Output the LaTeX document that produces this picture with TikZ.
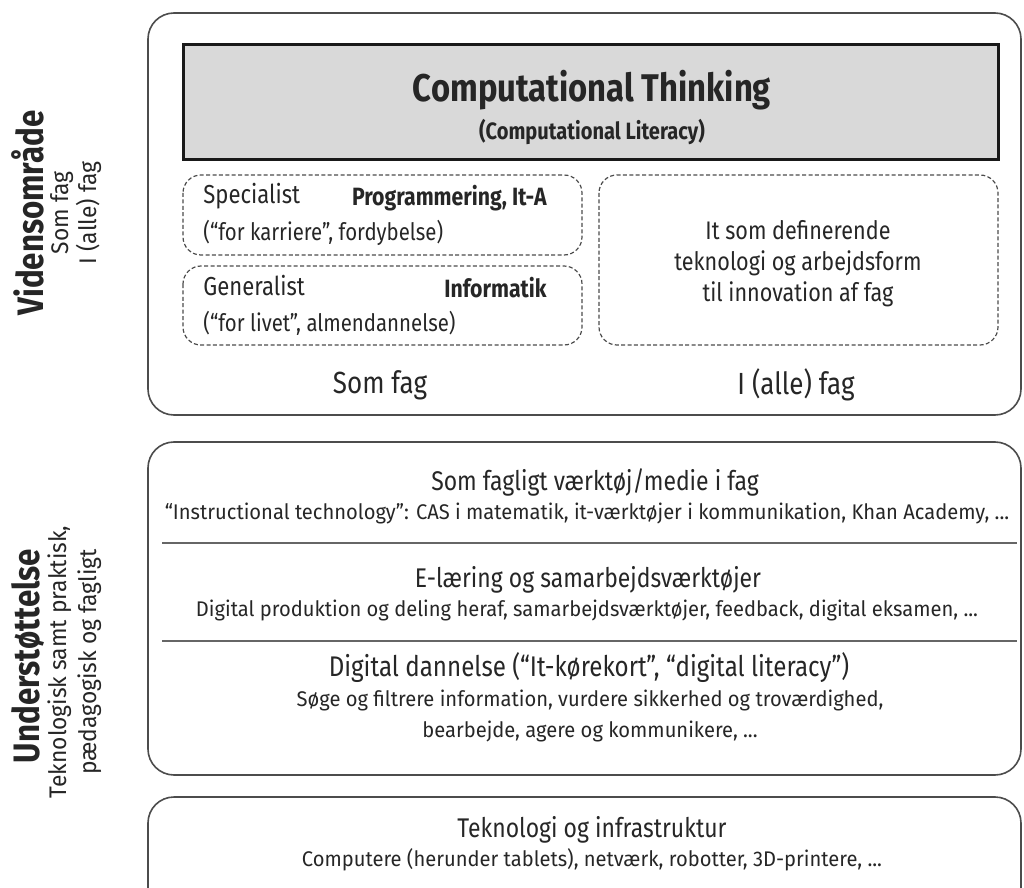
\documentclass[tikz,border=0pt]{standalone}
\usepackage{fontspec}
\setmainfont{Fira Sans}[FakeStretch=0.85]
\newfontfamily\subfont{Fira Sans}[FakeStretch=0.95]
\usetikzlibrary{positioning}
\newcommand{\fsz}[1]{\fontsize{#1}{1.2\dimexpr#1pt\relax}\selectfont}

\begin{document}
\begin{tikzpicture}[x=0.5pt,y=-0.5pt, text=black!85,
  panel/.style={draw=black!70, line width=0.8pt, rounded corners=13pt},
  field/.style={draw=black!70, line width=0.6pt, dash pattern=on 2pt off 1.2pt, rounded corners=9pt},
  ctbox/.style={draw=black!90, fill=black!15, line width=1.5pt},
  divider/.style={draw=black!60, line width=0.6pt},
  txt/.style={inner sep=0pt, align=center},
  head/.style={txt, font=\fsz{13.5}},
  sub/.style={txt, font=\subfont\fsz{10.6}},
  side/.style={inner sep=0pt, align=center, rotate=90}]

\useasboundingbox (0,0) rectangle (1024,888);
\clip (0,0) rectangle (1024,888);

% left labels
\node[side, font=\bfseries\fsz{18.4}] (vid) at (28,213) {Vidensområde};
\node[side, font=\subfont\fontsize{12}{14}\selectfont] (vidsub) at (76,213) {Som fag\\I (alle) fag};
\node[side, font=\bfseries\fsz{18.4}] (und) at (28,656) {Understøttelse};
\node[side, font=\subfont\fontsize{12}{15}\selectfont] (undsub) at (75,662) {Teknologisk samt praktisk,\\pædagogisk og fagligt};

% Vidensomraade
\draw[panel] (148,13) rectangle (1021,415);
\draw[ctbox] (183,45) rectangle (998,160);
\node[txt, font=\bfseries\fsz{19.3}] (ct) at (592,90) {Computational Thinking};
\node[txt, font=\bfseries\fsz{11.8}, below=4pt of ct] (cl) {(Computational Literacy)};

\draw[field] (183,175) rectangle (582,255);
\draw[field] (183,266) rectangle (582,345);
\draw[field] (599,175) rectangle (998,345);

\node[txt, anchor=west, font=\fsz{13}] (spec) at (203,196) {Specialist};
\node[txt, anchor=east, font=\bfseries\fsz{12.5}] (prog) at (547,198) {Programmering, It-A};
\node[txt, anchor=west, font=\fsz{12}] (specsub) at (203,233) {(“for karriere”, fordybelse)};
\node[txt, anchor=west, font=\fsz{13}] (gen) at (203,286) {Generalist};
\node[txt, anchor=east, font=\bfseries\fsz{12.5}] (inf) at (547,288) {Informatik};
\node[txt, anchor=west, font=\fsz{12}] (gensub) at (203,323) {(“for livet”, almendannelse)};
\node[txt, font=\fontsize{12.7}{15.5}\selectfont, text depth=0pt] (innov) at (798,261)
  {It som definerende\\teknologi og arbejdsform\\til innovation af fag};

\node[txt, font=\fsz{15.3}] (somfag) at (380,385) {Som fag};
\node[txt, font=\fsz{15.3}] (allefag) at (796,385) {I (alle) fag};

% Understoettelse
\draw[panel] (148,442) rectangle (1021,775);
\draw[divider] (162,543) -- (1017,543);
\draw[divider] (162,641) -- (1017,641);

\node[head] (vaerk) at (595,482) {Som fagligt værktøj/medie i fag};
\node[sub] (vaerksub) at (587,513)
  {“Instructional technology”: CAS i matematik, it-værktøjer i kommunikation, Khan Academy, ...};
\node[head] (elaer) at (588,580) {E-læring og samarbejdsværktøjer};
\node[sub] (elaersub) at (587,610)
  {Digital produktion og deling heraf, samarbejdsværktøjer, feedback, digital eksamen, ...};
\node[head, font=\fsz{14.2}] (dann) at (589,668) {Digital dannelse (“It-kørekort”, “digital literacy”)};
\node[sub] (dannsub1) at (590,700) {Søge og filtrere information, vurdere sikkerhed og troværdighed,};
\node[sub] (dannsub2) at (590,731) {bearbejde, agere og kommunikere, ...};

% Teknologi
\draw[panel] (148,797) rectangle (1021,920);
\node[head] (tek) at (592,830) {Teknologi og infrastruktur};
\node[sub] (teksub) at (592,860) {Computere (herunder tablets), netværk, robotter, 3D-printere, ...};

\end{tikzpicture}
\end{document}
